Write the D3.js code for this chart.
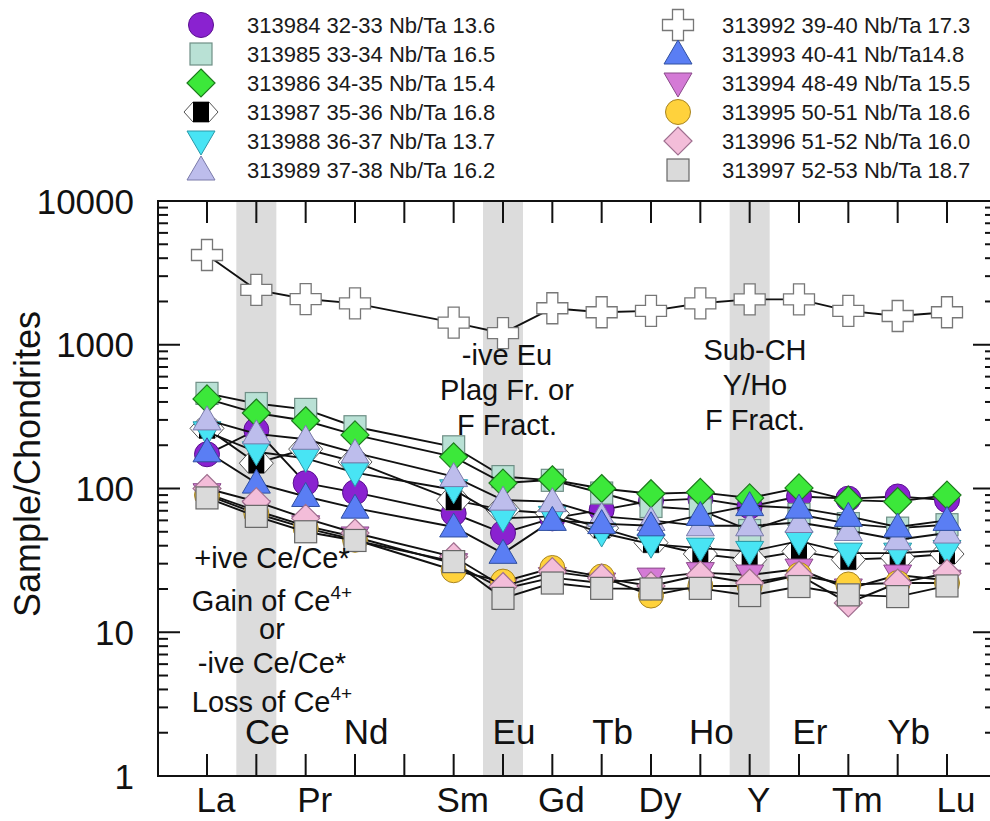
<!DOCTYPE html>
<html>
<head>
<meta charset="utf-8">
<script src="https://cdn.jsdelivr.net/npm/d3@7"></script>
<style>
  html, body { margin: 0; padding: 0; background: #fff; }
  svg { display: block; font-family: "Liberation Sans", Arial, sans-serif; }
</style>
</head>
<body>
<svg id="chart" width="990" height="821"></svg>
<script>
// x slots (Pm has a tick but no data / label)
const slots = ['La', 'Ce', 'Pr', 'Nd', 'Pm', 'Sm', 'Eu', 'Gd', 'Tb', 'Dy', 'Ho', 'Y', 'Er', 'Tm', 'Yb', 'Lu'];
const elements = ['La', 'Ce', 'Pr', 'Nd', 'Sm', 'Eu', 'Gd', 'Tb', 'Dy', 'Ho', 'Y', 'Er', 'Tm', 'Yb', 'Lu'];
const bottomLabels = ['La', 'Pr', 'Sm', 'Gd', 'Dy', 'Y', 'Tm', 'Lu'];
const innerLabels = ['Ce', 'Nd', 'Eu', 'Tb', 'Ho', 'Er', 'Yb'];
const shaded = ['Ce', 'Eu', 'Y'];
const yTicks = [1, 10, 100, 1000, 10000];

const legendLabels = [
    '313984 32-33 Nb/Ta 13.6', '313985 33-34 Nb/Ta 16.5', '313986 34-35 Nb/Ta 15.4',
    '313987 35-36 Nb/Ta 16.8', '313988 36-37 Nb/Ta 13.7', '313989 37-38 Nb/Ta 16.2',
    '313992 39-40 Nb/Ta 17.3', '313993 40-41 Nb/Ta14.8', '313994 48-49 Nb/Ta 15.5',
    '313995 50-51 Nb/Ta 18.6', '313996 51-52 Nb/Ta 16.0', '313997 52-53 Nb/Ta 18.7'
];
const symbols = ['circle', 'square', 'diamond', 'bow', 'down', 'up', 'cross', 'up', 'down', 'circle', 'diamond', 'square'];
const fills = ['#8a22d0', '#b9e1d5', '#3ce83a', '#000', '#48e4f4', '#bdbdec', '#fff', '#5a7ef4', '#d47ad6', '#ffd23c', '#f3bdd9', '#dadada'];
const strokes = ['#5a1090', '#6f8f86', '#1d7a1d', '#555', '#2a98a8', '#7a7aaa', '#777', '#3050a0', '#8a4a8a', '#a88420', '#a07090', '#666'];

// values per element: La Ce Pr Nd Sm Eu Gd Tb Dy Ho Y Er Tm Yb Lu
const s313984 = [173, 255, 109, 94, 67, 49, 62, 71, 82, 85, 75, 88, 85, 88, 83];
const s313985 = [459, 390, 355, 269, 195, 121, 114, 93, 75, 71, 51, 66, 57, 53, 56];
const s313986 = [420, 335, 296, 236, 166, 109, 115, 100, 92, 94, 86, 101, 83, 81, 90];
const s313987 = [262, 150, 188, 153, 83, 71, 67, 53, 42, 35, 32, 36.5, 32, 33, 35];
const s313988 = [248, 180, 162, 129, 98, 62, 64, 49, 41, 38.5, 36.5, 43, 35.5, 35.5, 37];
const s313989 = [300, 240, 220, 177, 121, 83, 81, 64, 60, 55, 55, 58, 51, 44, 49];
const s313992 = [4210, 2405, 2080, 1940, 1425, 1203, 1795, 1683, 1720, 1942, 2070, 2070, 1720, 1585, 1683];
const s313993 = [180, 109, 88, 73, 54, 35.4, 60, 57, 55, 65, 76, 73, 64, 54, 60];
const s313994 = [92, 70, 55, 46, 30, 20, 24, 22, 23.8, 26, 25, 27.5, 20, 25, 23];
const s313995 = [90, 67, 53, 44, 27, 22.5, 28, 24.4, 18, 21, 21, 25, 21.5, 22, 22];
const s313996 = [100, 81, 62, 49, 33.5, 20.8, 26.4, 23.8, 21, 25, 22, 25, 16, 22, 25.7];
const s313997 = [86, 64, 50, 43.5, 31, 17.2, 22, 20.2, 20, 20.2, 18, 20.8, 18.2, 17.7, 21];
const seriesValues = [s313984, s313985, s313986, s313987, s313988, s313989,
    s313992, s313993, s313994, s313995, s313996, s313997];

const margin = { left: 158, right: 995, top: 201, bottom: 776 };

const svg = d3.select('#chart');
const x = d3.scalePoint().domain(slots).range([207, 947]);
const y = d3.scaleLog().domain([1, 10000]).range([margin.bottom, margin.top]);

// grey bands
svg.append('g')
    .selectAll('rect')
    .data(shaded)
    .join('rect')
    .attr('x', d => x(d) - 20)
    .attr('y', margin.top)
    .attr('width', 40)
    .attr('height', margin.bottom - margin.top)
    .attr('fill', '#dcdcdc');

function drawSymbol(g, type, fill, stroke) {
    if (type === 'circle') {
        g.append('circle').attr('r', 12.5).attr('fill', fill).attr('stroke', stroke).attr('stroke-width', 1);
    } else if (type === 'square') {
        g.append('rect').attr('x', -11).attr('y', -11).attr('width', 22).attr('height', 22)
            .attr('fill', fill).attr('stroke', stroke).attr('stroke-width', 1.2);
    } else if (type === 'diamond') {
        g.append('path').attr('d', 'M0,-14L14,0L0,14L-14,0Z')
            .attr('fill', fill).attr('stroke', stroke).attr('stroke-width', 1.2);
    } else if (type === 'up') {
        g.append('path').attr('d', 'M0,-14L14,10L-14,10Z')
            .attr('fill', fill).attr('stroke', stroke).attr('stroke-width', 1);
    } else if (type === 'down') {
        g.append('path').attr('d', 'M0,14L14,-10L-14,-10Z')
            .attr('fill', fill).attr('stroke', stroke).attr('stroke-width', 1);
    } else if (type === 'cross') {
        g.append('path').attr('d', 'M-5.5,-15.5H5.5V-5.5H15.5V5.5H5.5V15.5H-5.5V5.5H-15.5V-5.5H-5.5Z')
            .attr('fill', fill).attr('stroke', stroke).attr('stroke-width', 1.3);
    } else if (type === 'bow') {
        g.append('path').attr('d', 'M-17,0L-8,-10H8L17,0L8,10H-8Z')
            .attr('fill', '#fff').attr('stroke', stroke).attr('stroke-width', 1);
        g.append('rect').attr('x', -8).attr('y', -10).attr('width', 16).attr('height', 20).attr('fill', fill);
    }
}

const line = d3.line()
    .x((d, i) => x(elements[i]))
    .y(d => y(d));

const plot = svg.append('g');
seriesValues.forEach((vals, k) => {
    plot.append('path')
        .attr('d', line(vals))
        .attr('fill', 'none')
        .attr('stroke', '#111')
        .attr('stroke-width', 1.9);
    plot.append('g')
        .selectAll('g')
        .data(vals)
        .join('g')
        .attr('transform', (d, i) => `translate(${x(elements[i])},${y(d)})`)
        .each(function () { drawSymbol(d3.select(this), symbols[k], fills[k], strokes[k]); });
});

// frame
svg.append('rect')
    .attr('x', margin.left).attr('y', margin.top)
    .attr('width', margin.right - margin.left).attr('height', margin.bottom - margin.top)
    .attr('fill', 'none').attr('stroke', '#111').attr('stroke-width', 2);

// x ticks, inward top and bottom
const ticks = svg.append('g').attr('stroke', '#111').attr('stroke-width', 2);
ticks.selectAll('.xb')
    .data(slots).join('line')
    .attr('x1', d => x(d)).attr('x2', d => x(d))
    .attr('y1', margin.bottom).attr('y2', margin.bottom - 22);
ticks.selectAll('.xt')
    .data(slots).join('line').attr('class', 'xt')
    .attr('x1', d => x(d)).attr('x2', d => x(d))
    .attr('y1', margin.top).attr('y2', margin.top + 22);

// y ticks, major + minor, inward on both sides
const yAll = [];
for (let e = 0; e < 4; e++)
    for (let m = 1; m < 10; m++)
        yAll.push(m * Math.pow(10, e));
yAll.push(10000);
ticks.selectAll('.yl')
    .data(yAll).join('line').attr('class', 'yl')
    .attr('x1', margin.left)
    .attr('x2', d => margin.left + (yTicks.includes(d) ? 22 : 10))
    .attr('y1', d => y(d)).attr('y2', d => y(d));
ticks.selectAll('.yr')
    .data(yAll).join('line').attr('class', 'yr')
    .attr('x1', margin.right)
    .attr('x2', d => margin.right - (yTicks.includes(d) ? 22 : 10))
    .attr('y1', d => y(d)).attr('y2', d => y(d));

// y tick labels
svg.append('g')
    .selectAll('text')
    .data(yTicks).join('text')
    .attr('x', 134)
    .attr('y', d => y(d))
    .attr('dy', '0.36em')
    .attr('text-anchor', 'end')
    .attr('font-size', 35)
    .attr('fill', '#111')
    .text(d => d);

svg.append('text')
    .attr('transform', 'translate(40,464) rotate(-90)')
    .attr('text-anchor', 'middle')
    .attr('font-size', 36)
    .attr('fill', '#111')
    .text('Sample/Chondrites');

// element labels
svg.append('g')
    .selectAll('text')
    .data(bottomLabels).join('text')
    .attr('x', d => x(d) + 9)
    .attr('y', 812)
    .attr('text-anchor', 'middle')
    .attr('font-size', 35)
    .attr('fill', '#111')
    .text(d => d);
svg.append('g')
    .selectAll('text')
    .data(innerLabels).join('text')
    .attr('x', d => x(d) + 11)
    .attr('y', 744)
    .attr('text-anchor', 'middle')
    .attr('font-size', 35)
    .attr('fill', '#111')
    .text(d => d);

// annotations
function note(lines, cx, y0, step) {
    const t = svg.append('g').attr('font-size', 29).attr('fill', '#111').attr('text-anchor', 'middle');
    lines.forEach((l, i) => {
        t.append('text').attr('x', cx).attr('y', y0 + i * step).text(l);
    });
}
note(['-ive Eu', 'Plag Fr. or', 'F Fract.'], 507, 365, 35);
note(['Sub-CH', 'Y/Ho', 'F Fract.'], 755, 360, 35);
const ceNote = svg.append('g').attr('font-size', 29).attr('fill', '#111').attr('text-anchor', 'middle');
const ceLines = [['+ive Ce/Ce*', '', 568], ['Gain of Ce', '4+', 611], ['or', '', 639], ['-ive Ce/Ce*', '', 673], ['Loss of Ce', '4+', 712]];
ceLines.forEach(l => {
    const tx = ceNote.append('text').attr('x', 272).attr('y', l[2]);
    tx.append('tspan').text(l[0]);
    if (l[1])
        tx.append('tspan').attr('font-size', 19).attr('dy', -12).text(l[1]);
});

// legend
const legend = svg.append('g');
legendLabels.forEach((lab, k) => {
    const col = k < 6 ? 0 : 1;
    const row = k % 6;
    const sx = col ? 678 : 201;
    const sy = 25 + row * 29;
    const g = legend.append('g').attr('transform', `translate(${sx},${sy})`);
    drawSymbol(g, symbols[k], fills[k], strokes[k]);
    legend.append('text')
        .attr('x', col ? 722 : 247)
        .attr('y', sy + 8)
        .attr('font-size', 22)
        .attr('fill', '#1a1a1a')
        .text(lab);
});
</script>
</body>
</html>
